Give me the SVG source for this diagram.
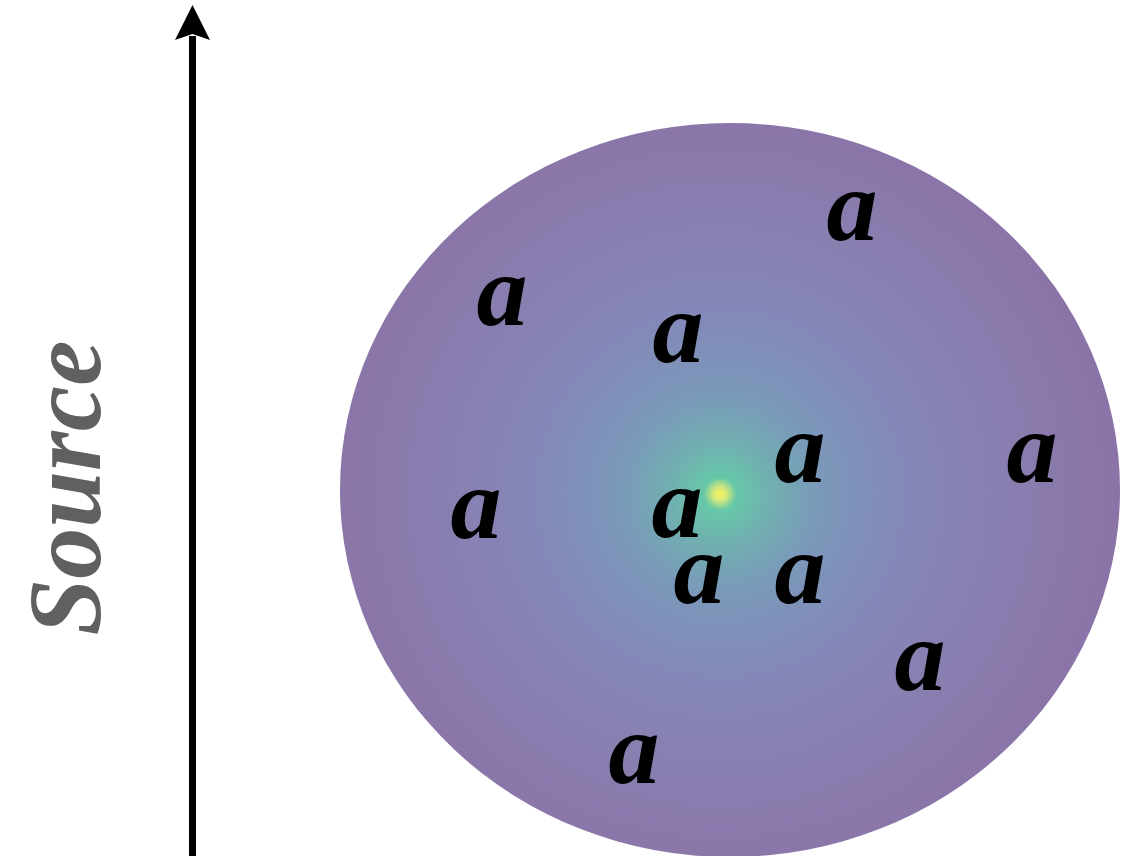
<svg xmlns="http://www.w3.org/2000/svg" width="1121" height="856" viewBox="0 0 1121 856">
  <style>
    .a { font-family: "Liberation Serif", "DejaVu Serif", serif; font-style: italic; font-weight: bold; font-size: 102px; fill: #000; text-anchor: middle; }
    .src { font-family: "Liberation Serif", "DejaVu Serif", serif; font-style: italic; font-weight: bold; font-size: 104px; fill: #606060; text-anchor: middle; }
  </style>
  <defs>
    <radialGradient id="glow" gradientUnits="userSpaceOnUse" cx="720" cy="494" r="410">
      <stop offset="0" stop-color="#fbf25a"/>
      <stop offset="0.015" stop-color="#d8ea78"/>
      <stop offset="0.04" stop-color="#66c8a8"/>
      <stop offset="0.12" stop-color="#70b0b0"/>
      <stop offset="0.25" stop-color="#7b98ba"/>
      <stop offset="0.45" stop-color="#8488b8"/>
      <stop offset="0.75" stop-color="#8a7cae"/>
      <stop offset="1" stop-color="#8b72a6"/>
    </radialGradient>
  </defs>
  <rect width="1121" height="856" fill="#fff"/>
  <g id="cloud">
    <ellipse cx="730" cy="490" rx="390" ry="367" fill="url(#glow)"/>
  </g>
  <g id="connectors">
    <line x1="192.5" y1="856" x2="192.5" y2="36" stroke="#000" stroke-width="7"/>
    <polygon points="192.5,5 210,40 192.5,34 175,40" fill="#000"/>
  </g>
  <g id="source-label">
    <text class="src" transform="translate(100,488) rotate(-90)" textLength="295" lengthAdjust="spacingAndGlyphs">Source</text>
  </g>
  <g id="particles">
    <text id="a1" class="a" x="852" y="240">a</text>
    <text id="a2" class="a" x="502" y="325">a</text>
    <text id="a3" class="a" x="678" y="362">a</text>
    <text id="a4" class="a" x="800" y="482">a</text>
    <text id="a5" class="a" x="1032" y="482">a</text>
    <text id="a6" class="a" x="476" y="538">a</text>
    <text id="a7" class="a" x="677" y="537">a</text>
    <text id="a8" class="a" x="699" y="603">a</text>
    <text id="a9" class="a" x="800" y="603">a</text>
    <text id="a10" class="a" x="920" y="690">a</text>
    <text id="a11" class="a" x="634" y="783">a</text>
  </g>
</svg>
